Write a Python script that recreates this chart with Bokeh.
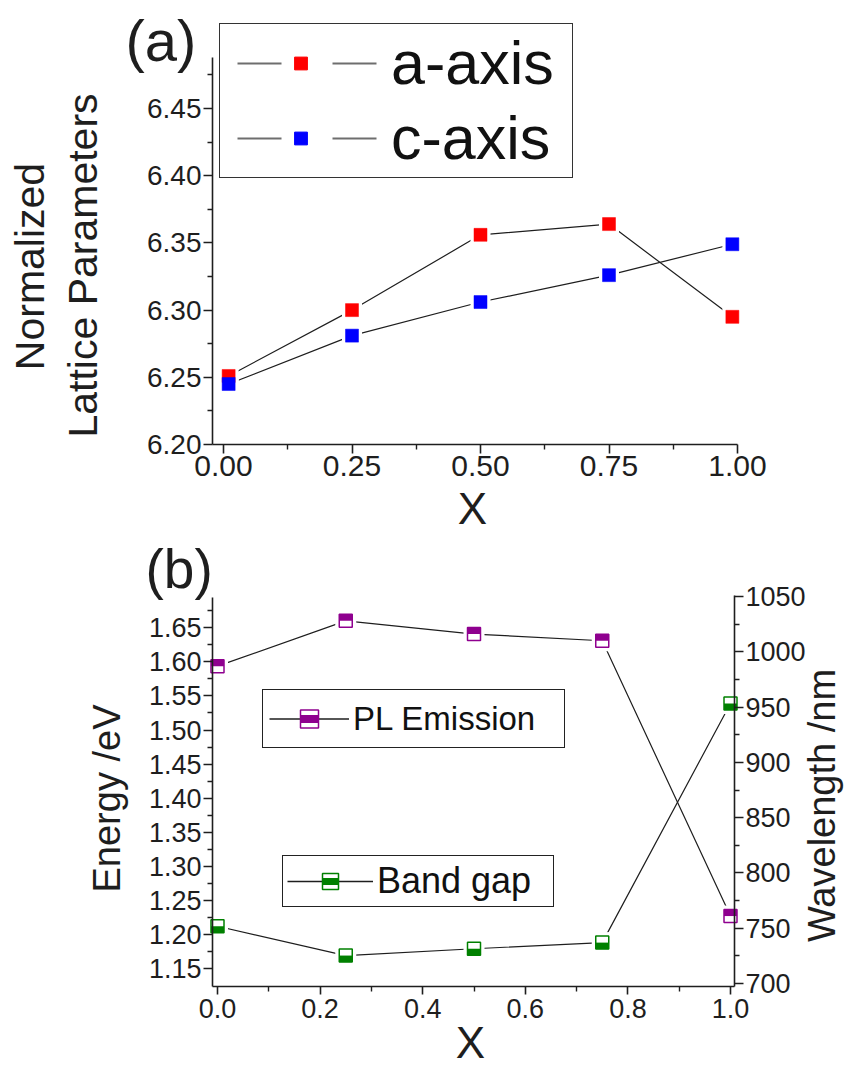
import math
from bokeh.plotting import figure
from bokeh.models import (Range1d, LinearAxis, FixedTicker, NumeralTickFormatter,
                          Legend, LegendItem, Label)
from bokeh.layouts import column
from bokeh.embed import file_html
from bokeh.resources import INLINE

FONT = "Liberation Sans"
INK = "#1e1e1e"
NAN = float("nan")

# ---------------- data: panel (a) ----------------
x_a = [0.01, 0.25, 0.50, 0.75, 0.99]
a_axis = [6.251, 6.300, 6.356, 6.364, 6.295]
c_axis = [6.245, 6.281, 6.306, 6.326, 6.349]
a_xticks = [0.0, 0.25, 0.50, 0.75, 1.0]
a_yticks = [6.20, 6.25, 6.30, 6.35, 6.40, 6.45]

# ---------------- data: panel (b) ----------------
x_b = [0.0, 0.25, 0.50, 0.75, 1.0]
band_gap_ev = [1.212, 1.169, 1.179, 1.188, 1.539]
pl_emission_nm = [987, 1028, 1016, 1010, 761]
b_xticks = [0.0, 0.2, 0.4, 0.6, 0.8, 1.0]
b_yticks_ev = [1.15, 1.20, 1.25, 1.30, 1.35, 1.40, 1.45, 1.50, 1.55, 1.60, 1.65]
b_yticks_nm = [700, 750, 800, 850, 900, 950, 1000, 1050]

RED, BLUE = "#ff0000", "#0000ff"
PURPLE, GREEN = "#8f008f", "#008000"

W = 846
H1 = 535
H2 = 534
MID = 0.38  # distance from text middle to baseline, in em


def minors(ticks, extend_end=False):
    step = ticks[1] - ticks[0]
    m = [(a + b) / 2 for a, b in zip(ticks[:-1], ticks[1:])]
    return m + ([ticks[-1] + step / 2] if extend_end else [])


def make_axis(ticks, fmt, fs, loc, bounds, tick_out=9, standoff=2, extend_end=False, **kw):
    ax = LinearAxis(fixed_location=loc, bounds=bounds, **kw)
    ax.ticker = FixedTicker(ticks=ticks, minor_ticks=minors(ticks, extend_end))
    ax.formatter = NumeralTickFormatter(format=fmt)
    ax.major_label_text_font = FONT
    ax.major_label_text_font_size = fs
    ax.major_label_text_color = INK
    ax.axis_line_color = INK
    ax.axis_line_width = 1.6
    ax.major_tick_line_color = INK
    ax.major_tick_line_width = 1.6
    ax.minor_tick_line_color = INK
    ax.minor_tick_line_width = 1.4
    ax.major_tick_in = 0
    ax.major_tick_out = tick_out
    ax.minor_tick_in = 0
    ax.minor_tick_out = 5
    ax.major_label_standoff = standoff
    return ax


def text_label(x, y, text, fs, angle=0.0, align="left"):
    return Label(x=x, y=y, text=text, angle=angle, text_font=FONT, text_font_size="%dpx" % fs,
                 text_color=INK, text_align=align, text_baseline="middle")


# =============== panel (a) ===============
# pixel -> data helpers (page pixels, panel (a) occupies rows 0..535)
def a_x(px):
    return (px - 223) / 514.0


def a_y(py):
    return 6.20 + (444 - py) / 1344.0


p1 = figure(width=W, height=H1, x_range=Range1d(a_x(0), a_x(W)), y_range=Range1d(a_y(H1), a_y(0)),
            x_axis_type=None, y_axis_type=None, output_backend="svg", toolbar_location=None,
            min_border=0)
p1.outline_line_color = None

p1.add_layout(make_axis(a_xticks, "0.00", "30px", a_y(444), (a_x(212), a_x(737))), "below")
p1.add_layout(make_axis(a_yticks, "0.00", "28px", a_x(212), (a_y(444), a_y(57)),
                        extend_end=True), "left")

for ys in (a_axis, c_axis):
    p1.line(x_a, ys, line_color=INK, line_width=1.2)
for ys in (a_axis, c_axis):
    p1.scatter(x_a, ys, marker="square", size=20, fill_color="white", line_color=None)
p1.scatter(x_a, a_axis, marker="square", size=13, fill_color=RED, line_color=RED, line_width=0.5)
p1.scatter(x_a, c_axis, marker="square", size=13, fill_color=BLUE, line_color=BLUE, line_width=0.5)

leg_line_a = p1.line([NAN], [NAN], line_color="#6e6e6e", line_width=2, line_dash="44 51",
                     line_dash_offset=82)
leg_red = p1.scatter([NAN], [NAN], marker="square", fill_color=RED, line_color=RED)
leg_blue = p1.scatter([NAN], [NAN], marker="square", fill_color=BLUE, line_color=BLUE)
lega = Legend(items=[LegendItem(label="a-axis", renderers=[leg_line_a, leg_red]),
                     LegendItem(label="c-axis", renderers=[leg_line_a, leg_blue])],
              location=(219, H1 - 178), orientation="vertical",
              glyph_width=153, glyph_height=32, label_standoff=14, label_width=177,
              padding=4, spacing=5, margin=0,
              label_text_font=FONT, label_text_font_size="61px", label_text_color="#111111",
              border_line_color="#333333", border_line_width=1.6, border_line_alpha=1.0,
              background_fill_color="white", background_fill_alpha=1.0)
p1.add_layout(lega)

p1.add_layout(text_label(a_x(125), a_y(62 - MID * 58), "(a)", 58))
p1.add_layout(text_label(a_x(45 - MID * 41), a_y(266), "Normalized", 41, angle=math.pi / 2,
                         align="center"))
p1.add_layout(text_label(a_x(98 - MID * 41), a_y(265), "Lattice Parameters", 41,
                         angle=math.pi / 2, align="center"))
p1.add_layout(text_label(a_x(472), a_y(525 - MID * 44), "X", 44, align="center"))


# =============== panel (b) ===============
# page pixels; panel (b) occupies rows 535..1069
def b_x(px):
    return (px - 217) / 513.0


def b_ev(py):
    return 1.15 + (968 - py) / 681.4


def b_nm(py):
    return 700 + (983 - py) / 1.1057


TOP2 = H1
p2 = figure(width=W, height=H2, x_range=Range1d(b_x(0), b_x(W)),
            y_range=Range1d(b_ev(TOP2 + H2), b_ev(TOP2)),
            x_axis_type=None, y_axis_type=None, output_backend="svg", toolbar_location=None,
            min_border=0)
p2.outline_line_color = None
p2.extra_y_ranges = {"nm": Range1d(b_nm(TOP2 + H2), b_nm(TOP2))}

p2.add_layout(make_axis(b_xticks, "0.0", "27px", b_ev(986), (b_x(212), b_x(734)),
                        tick_out=8, standoff=4), "below")
p2.add_layout(make_axis(b_yticks_ev, "0.00", "27px", b_x(212), (b_ev(986), b_ev(597)),
                        extend_end=True), "left")
p2.add_layout(make_axis(b_yticks_nm, "0", "27px", b_x(734), (b_nm(986), b_nm(595)),
                        y_range_name="nm"), "right")

MK = 13
half_ev = (MK / 2) / 681.4
half_nm = (MK / 2) / 1.1057

p2.line(x_b, band_gap_ev, line_color=INK, line_width=1.2)
p2.line(x_b, pl_emission_nm, line_color=INK, line_width=1.2, y_range_name="nm")
p2.scatter(x_b, band_gap_ev, marker="square", size=21, fill_color="white", line_color=None)
p2.scatter(x_b, pl_emission_nm, marker="square", size=21, fill_color="white", line_color=None,
           y_range_name="nm")
p2.scatter(x_b, band_gap_ev, marker="square", size=MK, fill_color="white", line_color=GREEN,
           line_width=1.5)
p2.rect(x_b, [v - half_ev / 2 for v in band_gap_ev], width=MK, height=half_ev,
        width_units="screen", fill_color=GREEN, line_color=None)
p2.scatter(x_b, pl_emission_nm, marker="square", size=MK, fill_color="white", line_color=PURPLE,
           line_width=1.5, y_range_name="nm")
p2.rect(x_b, [v + half_nm / 2 for v in pl_emission_nm], width=MK, height=half_nm,
        width_units="screen", fill_color=PURPLE, line_color=None, y_range_name="nm")

leg_line_b = p2.line([NAN], [NAN], line_color=INK, line_width=1.4)
leg_pl_box = p2.scatter([NAN], [NAN], marker="square", fill_color="white", line_color=PURPLE,
                        line_width=1.5)
leg_pl_band = p2.scatter([NAN], [NAN], marker="dash", line_color=PURPLE, line_width=8)
leg_bg_box = p2.scatter([NAN], [NAN], marker="square", fill_color="white", line_color=GREEN,
                        line_width=1.5)
leg_bg_band = p2.scatter([NAN], [NAN], marker="dash", line_color=GREEN, line_width=7)

common = dict(orientation="vertical", label_standoff=4, margin=0,
              label_text_font=FONT, label_text_color="#111111",
              border_line_color="#222222", border_line_width=1.6, border_line_alpha=1.0,
              background_fill_color="white", background_fill_alpha=1.0)
leg_pl = Legend(items=[LegendItem(label="PL Emission", renderers=[leg_line_b, leg_pl_box, leg_pl_band])],
                location=(262, TOP2 + H2 - 748), glyph_width=80, glyph_height=45, padding=6,
                label_width=205, label_text_font_size="33px", **common)
leg_bg = Legend(items=[LegendItem(label="Band gap", renderers=[leg_line_b, leg_bg_box, leg_bg_band])],
                location=(282, TOP2 + H2 - 907), glyph_width=86, glyph_height=40, padding=4,
                label_width=172, label_text_font_size="36px", **common)
p2.add_layout(leg_pl)
p2.add_layout(leg_bg)

p2.add_layout(text_label(b_x(145), b_ev(589 - MID * 55), "(b)", 55))
p2.add_layout(text_label(b_x(121 - MID * 38), b_ev(798), "Energy /eV", 38, angle=math.pi / 2,
                         align="center"))
p2.add_layout(text_label(b_x(836 - MID * 38), b_ev(805), "Wavelength /nm", 38, angle=math.pi / 2,
                         align="center"))
p2.add_layout(text_label(b_x(470), b_ev(1059 - MID * 44), "X", 44, align="center"))

layout = column(p1, p2, spacing=0)
open("out.html", "w").write(file_html(layout, INLINE))
